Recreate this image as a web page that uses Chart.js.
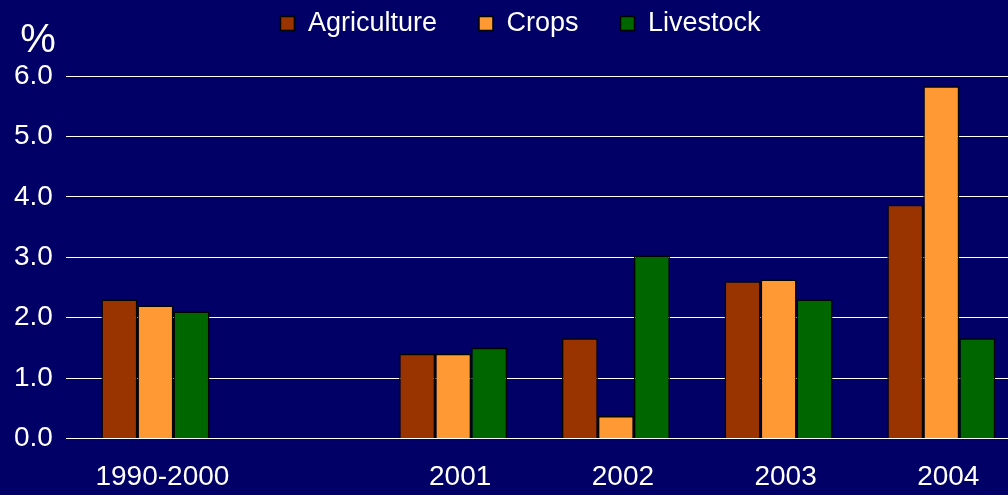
<!DOCTYPE html>
<html>
<head>
<meta charset="utf-8">
<script src="https://cdn.jsdelivr.net/npm/chart.js@4.4.1/dist/chart.umd.min.js"></script>
<style>
  html, body { margin: 0; padding: 0; background: #000066; overflow: hidden; }
  #wrap { width: 1008px; height: 495px; position: relative; }
</style>
</head>
<body>
<div id="wrap"><canvas id="chart"></canvas></div>
<script>
const categories = ['1990-2000', '2001', '2002', '2003', '2004'];
// where each group sits on the x axis (the first period is set apart)
const slots = [1.17, 3, 4, 5, 6];
const agriculture = [2.3, 1.4, 1.66, 2.6, 3.87];
const crops = [2.2, 1.4, 0.37, 2.63, 5.83];
const livestock = [2.1, 1.5, 3.03, 2.3, 1.66];
const yTicks = [0, 1, 2, 3, 4, 5, 6];

const FONT = '"Liberation Sans", Arial, sans-serif';
const toPoints = arr => arr.map((v, i) => ({ x: slots[i], y: v }));

const legendSpace = {
    id: 'legendSpace',
    beforeInit(chart) {
        const fit = chart.legend.fit;
        chart.legend.fit = function () {
            fit.bind(chart.legend)();
            this.height = 108;
        };
    },
    afterLayout(chart) {
        // nudge the centred legend a bit to the right
        chart.legend.left += 32;
    }
};

const percentLabel = {
    id: 'percentLabel',
    afterDraw(chart) {
        const ctx = chart.ctx;
        ctx.save();
        ctx.fillStyle = '#ffffff';
        ctx.font = '40px ' + FONT;
        ctx.textAlign = 'center';
        ctx.textBaseline = 'alphabetic';
        ctx.fillText('%', 38, 52);
        ctx.restore();
    }
};

new Chart(document.getElementById('chart'), {
    type: 'bar',
    data: {
        datasets: [
            { label: 'Agriculture', data: toPoints(agriculture), backgroundColor: '#993300' },
            { label: 'Crops', data: toPoints(crops), backgroundColor: '#FF9933' },
            { label: 'Livestock', data: toPoints(livestock), backgroundColor: '#006600' }
        ]
    },
    options: {
        responsive: true,
        maintainAspectRatio: false,
        animation: false,
        layout: { padding: { top: -32, left: 1, right: 0, bottom: -21 } },
        datasets: {
            bar: {
                borderColor: '#000000',
                borderWidth: 1.5,
                categoryPercentage: 0.664,
                barPercentage: 1.0
            }
        },
        plugins: {
            tooltip: { enabled: false },
            legend: {
                position: 'top',
                labels: {
                    color: '#ffffff',
                    font: { family: FONT, size: 27 },
                    boxWidth: 14,
                    boxHeight: 14,
                    padding: 42
                }
            }
        },
        scales: {
            x: {
                type: 'linear',
                min: 0.62,
                max: 6.41,
                offset: false,
                grid: { display: false, offset: false, drawTicks: false },
                border: { display: false },
                afterBuildTicks: scale => { scale.ticks = slots.map(v => ({ value: v })); },
                ticks: {
                    color: '#ffffff',
                    font: { family: FONT, size: 28 },
                    padding: 22,
                    labelOffset: 7,
                    autoSkip: false,
                    maxRotation: 0,
                    callback: (v, i) => categories[i]
                }
            },
            y: {
                min: 0,
                max: 6,
                afterBuildTicks: scale => { scale.ticks = yTicks.map(v => ({ value: v })); },
                grid: { color: '#ffffff', lineWidth: 1, drawTicks: false },
                border: { display: false },
                ticks: {
                    color: '#ffffff',
                    font: { family: FONT, size: 28 },
                    padding: 13,
                    callback: v => Number(v).toFixed(1)
                }
            }
        }
    },
    plugins: [legendSpace, percentLabel]
});
</script>
</body>
</html>
